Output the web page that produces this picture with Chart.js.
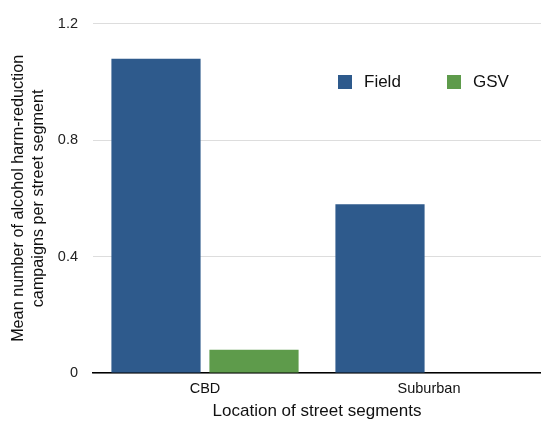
<!DOCTYPE html>
<html>
<head>
<meta charset="utf-8">
<script src="https://cdn.jsdelivr.net/npm/chart.js@4.4.1/dist/chart.umd.min.js"></script>
<style>
	html, body { margin: 0; padding: 0; background: #fff; }
	#wrap { width: 541px; height: 424px; position: relative; }
</style>
</head>
<body>
<div id="wrap"><canvas id="barChart"></canvas></div>
<script>
const categories = ['CBD', 'Suburban'];
const fieldValues = [1.08, 0.58];
const gsvValues = [0.08, 0];
const yTicks = [0, 0.4, 0.8, 1.2];

const fieldColor = '#2e5a8c';
const gsvColor = '#5e9b4b';

// legend drawn inside the plot, top right
const innerLegend = {
	id: 'innerLegend',
	afterDraw(chart) {
		const ctx = chart.ctx;
		const spots = [{ x: 338, y: 75 }, { x: 447, y: 75 }];
		ctx.save();
		ctx.font = '17px "Liberation Sans", Arial, sans-serif';
		ctx.textBaseline = 'middle';
		chart.data.datasets.forEach((ds, i) => {
			const p = spots[i];
			ctx.fillStyle = ds.backgroundColor;
			ctx.fillRect(p.x, p.y, 14, 14);
			ctx.fillStyle = '#111';
			ctx.fillText(ds.label, p.x + 26, p.y + 7);
		});
		ctx.restore();
	}
};

const ctx = document.getElementById('barChart').getContext('2d');
new Chart(ctx, {
	type: 'bar',
	data: {
		labels: categories,
		datasets: [
			{ label: 'Field', data: fieldValues, backgroundColor: fieldColor },
			{ label: 'GSV', data: gsvValues, backgroundColor: gsvColor }
		]
	},
	options: {
		responsive: true,
		maintainAspectRatio: false,
		animation: false,
		layout: { padding: { top: 23, right: 0, left: 0, bottom: 0 } },
		categoryPercentage: 0.875,
		barPercentage: 0.91,
		plugins: {
			legend: { display: false },
			tooltip: { enabled: false }
		},
		scales: {
			x: {
				afterFit: s => { s.height = 51; },
				grid: { display: false, drawTicks: false },
				border: { display: true, color: '#000', width: 1.5 },
				ticks: {
					color: '#111',
					padding: 7,
					font: { family: '"Liberation Sans", Arial, sans-serif', size: 14.5 }
				},
				title: {
					display: true,
					text: 'Location of street segments',
					color: '#111',
					padding: { top: 0, bottom: 2 },
					font: { family: '"Liberation Sans", Arial, sans-serif', size: 17 }
				}
			},
			y: {
				min: 0,
				max: 1.2,
				afterFit: s => { s.width = 93; },
				afterBuildTicks: s => { s.ticks = yTicks.map(v => ({ value: v })); },
				grid: { color: '#dddddd', drawTicks: false },
				border: { display: false },
				ticks: {
					color: '#222',
					padding: 15,
					font: { family: '"Liberation Sans", Arial, sans-serif', size: 14.5 },
					callback: v => String(v)
				},
				title: {
					display: true,
					text: ['Mean number of alcohol harm-reduction', 'campaigns per street segment'],
					color: '#111',
					padding: { top: 8, bottom: 0 },
					font: { family: '"Liberation Sans", Arial, sans-serif', size: 16.2, lineHeight: 1.25 }
				}
			}
		}
	},
	plugins: [innerLegend]
});
</script>
</body>
</html>
